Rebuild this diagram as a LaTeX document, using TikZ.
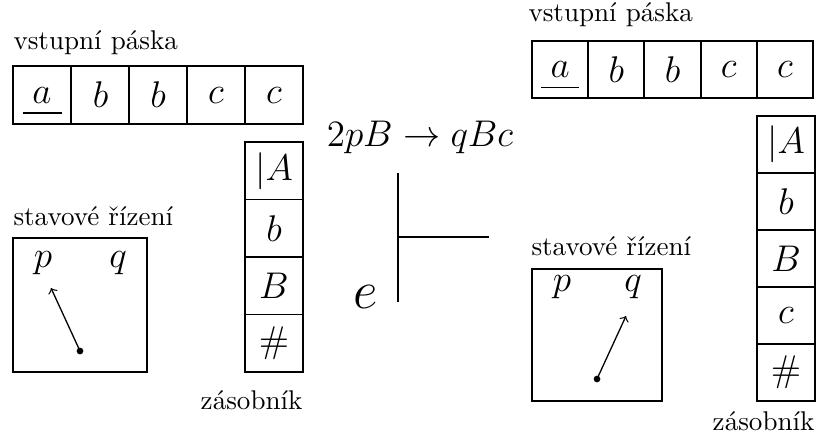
\documentclass[tikz,border=0pt]{standalone}
\usetikzlibrary{calc}
\newcommand{\cellfont}{\fontsize{13.8}{16}\selectfont}
\newcommand{\rulefont}{\fontsize{13.3}{16}\selectfont}
\newcommand{\lblfont}{\fontsize{10.5}{12.5}\selectfont}
\begin{document}
\begin{tikzpicture}[x=0.3876pt,y=-0.3876pt,
  cellL/.style={draw,line width=0.7pt,minimum width=22.48pt,minimum height=22.3pt,inner sep=0pt,font=\cellfont},
  tapeR/.style={draw,line width=0.7pt,minimum width=21.8pt,minimum height=22.1pt,inner sep=0pt,font=\cellfont},
  stackR/.style={draw,line width=0.7pt,minimum width=22.48pt,minimum height=22.1pt,inner sep=0pt,font=\cellfont},
  lbl/.style={inner sep=0pt,font=\lblfont},
  ctl/.style={draw,line width=0.7pt,inner sep=0pt},
  st/.style={inner sep=0pt,font=\cellfont},
  dot/.style={circle,fill,inner sep=0pt,minimum size=2.6pt},
  ptr/.style={->,line width=0.5pt},
  bar/.style={line width=0.7pt}]
\useasboundingbox (0,0) rectangle (817,443);

% ---------- left configuration ----------
\node[lbl,anchor=base west] (tapeLlbl) at (13,49) {vstupní páska};
\node[cellL] (l1) at (42,95) {$a$};
\node[cellL] (l2) at (100.5,95) {$b$};
\node[cellL] (l3) at (158,95) {$b$};
\node[cellL] (l4) at (216,95) {$c$};
\node[cellL] (l5) at (274,95) {$c$};
\draw[bar] ($(l1.center)+(-19.5,18)$) -- ($(l1.center)+(19.5,18)$);

\node[cellL] (s1) at (274,170.75) {$|A$};
\node[cellL] (s2) at (274,228.25) {$b$};
\node[cellL] (s3) at (274,285.75) {$B$};
\node[cellL] (s4) at (274,343.25) {$\#$};
\node[lbl,anchor=base east] (stackLlbl) at (303,409) {zásobník};

\node[lbl,anchor=base west] (ctlLlbl) at (13,225) {stavové řízení};
\node[ctl,minimum width=51.9pt,minimum height=51.9pt] (ctlL) at (80,305) {};
\node[st] (pL) at (43,263) {$p$};
\node[st] (qL) at (118,263) {$q$};
\node[dot] (dotL) at (80,351) {};
\coordinate (tipL) at (51,288);
\draw[ptr] (dotL.center) -- (tipL);

% ---------- middle ----------
\node[lbl,anchor=base,font=\rulefont] (rule) at (420,146) {$2pB \rightarrow qBc$};
\coordinate (vt) at (398,173);
\coordinate (vb) at (398,302);
\coordinate (hm) at (398,237);
\coordinate (hr) at (489,237);
\draw[bar] (vt) -- (vb);
\draw[bar] (hm) -- (hr);
\node[lbl,anchor=base,font=\huge] (e) at (366,308) {$e$};

% ---------- right configuration ----------
\node[lbl,anchor=base west] (tapeRlbl) at (528,21) {vstupní páska};
\node[tapeR] (r1) at (560.1,69.5) {$a$};
\node[tapeR] (r2) at (616.3,69.5) {$b$};
\node[tapeR] (r3) at (672.5,69.5) {$b$};
\node[tapeR] (r4) at (728.7,69.5) {$c$};
\node[tapeR] (r5) at (784.9,69.5) {$c$};
\draw[bar] ($(r1.center)+(-19,18)$) -- ($(r1.center)+(19,18)$);

\node[stackR] (t1) at (786,144.5) {$|A$};
\node[stackR] (t2) at (786,201.5) {$b$};
\node[stackR] (t3) at (786,258.5) {$B$};
\node[stackR] (t4) at (786,315.5) {$c$};
\node[stackR] (t5) at (786,372.5) {$\#$};
\node[lbl,anchor=base east] (stackRlbl) at (815,430) {zásobník};

\node[lbl,anchor=base west] (ctlRlbl) at (531,255) {stavové řízení};
\node[ctl,minimum width=50.4pt,minimum height=51.2pt] (ctlR) at (597,335) {};
\node[st] (pR) at (562,287) {$p$};
\node[st] (qR) at (633,287) {$q$};
\node[dot] (dotR) at (597,379) {};
\coordinate (tipR) at (626,316);
\draw[ptr] (dotR.center) -- (tipR);
\end{tikzpicture}
\end{document}
